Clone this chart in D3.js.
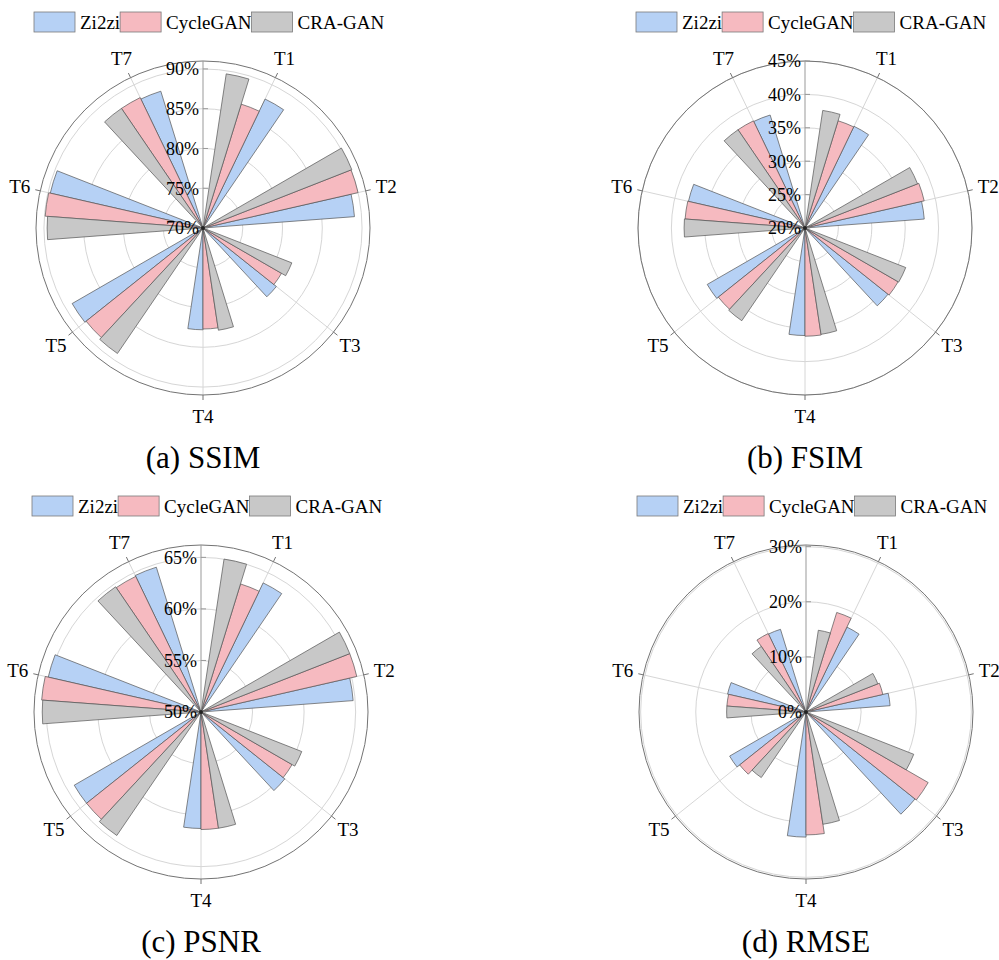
<!DOCTYPE html>
<html>
<head>
<meta charset="utf-8">
<script src="https://cdn.jsdelivr.net/npm/d3@7"></script>
<style>
  body { margin: 0; background: #fff; }
  text { font-family: "Liberation Serif", "Times New Roman", serif; fill: #000; }
</style>
</head>
<body>
<svg width="999" height="960"></svg>
<script>
// categories and series
const categories = ["T1", "T2", "T3", "T4", "T5", "T6", "T7"];
const seriesNames = ["Zi2zi", "CycleGAN", "CRA-GAN"];
const seriesColors = ["#b6d1f5", "#f6bac0", "#c8c8c8"];

// (a) SSIM, %
const ssimZi2zi    = [88.0, 89.1, 81.8, 82.8, 89.0, 89.7, 88.0];
const ssimCycleGAN = [86.3, 90.0, 81.4, 82.7, 88.8, 89.9, 88.2];
const ssimCRAGAN   = [89.6, 90.1, 82.0, 83.0, 89.1, 89.6, 88.2];
const ssimTicks = [70, 75, 80, 85, 90];

// (b) FSIM, %
const fsimZi2zi    = [36.9, 37.9, 35.9, 36.1, 36.9, 37.9, 37.7];
const fsimCycleGAN = [36.8, 38.3, 36.1, 36.2, 36.6, 38.0, 37.8];
const fsimCRAGAN   = [37.8, 38.1, 36.2, 36.1, 36.8, 38.1, 37.8];
const fsimTicks = [20, 25, 30, 35, 40, 45];

// (c) PSNR, %
const psnrZi2zi    = [63.9, 64.8, 60.4, 61.3, 64.2, 65.2, 64.7];
const psnrCycleGAN = [63.0, 65.5, 60.2, 61.4, 64.2, 65.5, 64.6];
const psnrCRAGAN   = [65.0, 65.5, 60.5, 61.4, 64.5, 65.4, 64.7];
const psnrTicks = [50, 55, 60, 65];

// (d) RMSE, %
const rmseZi2zi    = [17.1, 15.3, 25.3, 22.7, 16.0, 14.6, 15.7];
const rmseCycleGAN = [18.9, 14.3, 25.6, 22.3, 15.4, 14.4, 15.8];
const rmseCRAGAN   = [15.0, 14.0, 21.0, 20.6, 14.4, 14.4, 14.4];
const rmseTicks = [0, 10, 20, 30];

const panels = [
    {caption: "(a) SSIM", cx: 203, cy: 228, max: 91,   ticks: ssimTicks, series: [ssimZi2zi, ssimCycleGAN, ssimCRAGAN]},
    {caption: "(b) FSIM", cx: 805, cy: 228, max: 45,   ticks: fsimTicks, series: [fsimZi2zi, fsimCycleGAN, fsimCRAGAN]},
    {caption: "(c) PSNR", cx: 201, cy: 712, max: 66.2, ticks: psnrTicks, series: [psnrZi2zi, psnrCycleGAN, psnrCRAGAN]},
    {caption: "(d) RMSE", cx: 806, cy: 712, max: 30.3, ticks: rmseTicks, series: [rmseZi2zi, rmseCycleGAN, rmseCRAGAN]}
];

const svg = d3.select("svg");
const R = 167;
const gridColor = "#d6d6d6";
const axisColor = "#737373";

const polar = (a, rad) => [Math.sin(a) * rad, -Math.cos(a) * rad];

const drawPanel = (p) => {
    const g = svg.append("g").attr("transform", `translate(${p.cx},${p.cy})`);
    const r = d3.scaleLinear().domain([p.ticks[0], p.max]).range([0, R]);

    // category angle, clockwise from north
    const angle = d3.scaleBand().domain(categories).range([0, 2 * Math.PI]);
    const catMid = c => angle(c) + angle.bandwidth() / 2;
    const slot = angle.bandwidth() / 6;
    // series run counter-clockwise: Zi2zi last clockwise
    const offset = d3.scaleBand().domain([2, 1, 0]).range([-1.5 * slot, 1.5 * slot]);

    // grid circles
    g.selectAll("circle.grid")
        .data(p.ticks.slice(1))
        .join("circle")
        .attr("class", "grid")
        .attr("r", d => r(d))
        .attr("fill", "none")
        .attr("stroke", gridColor)
        .attr("stroke-width", 1);

    // spokes
    g.selectAll("line.spoke")
        .data(categories)
        .join("line")
        .attr("class", "spoke")
        .attr("x1", 0).attr("y1", 0)
        .attr("x2", d => polar(catMid(d), R)[0])
        .attr("y2", d => polar(catMid(d), R)[1])
        .attr("stroke", gridColor);

    // outer circle + little ticks
    g.append("circle")
        .attr("r", R)
        .attr("fill", "none")
        .attr("stroke", axisColor)
        .attr("stroke-width", 1);
    g.selectAll("line.otick")
        .data(categories)
        .join("line")
        .attr("class", "otick")
        .attr("x1", d => polar(catMid(d), R)[0])
        .attr("y1", d => polar(catMid(d), R)[1])
        .attr("x2", d => polar(catMid(d), R + 5)[0])
        .attr("y2", d => polar(catMid(d), R + 5)[1])
        .attr("stroke", axisColor);

    // bars
    const arc = d3.arc().innerRadius(0);
    p.series.forEach((vals, s) => {
        g.append("g")
            .selectAll("path")
            .data(vals.map((v, i) => ({cat: categories[i], v})))
            .join("path")
            .attr("d", d => {
                const a0 = catMid(d.cat) + offset(s) - slot / 2;
                return arc({outerRadius: r(d.v), startAngle: a0, endAngle: a0 + slot});
            })
            .attr("fill", seriesColors[s])
            .attr("stroke", "#555")
            .attr("stroke-width", 0.7);
    });

    // radial axis
    g.append("line")
        .attr("x1", 0).attr("y1", 0)
        .attr("x2", 0).attr("y2", -R)
        .attr("stroke", "#999");
    g.selectAll("line.rtick")
        .data(p.ticks)
        .join("line")
        .attr("class", "rtick")
        .attr("x1", 0).attr("x2", 5)
        .attr("y1", d => -r(d)).attr("y2", d => -r(d))
        .attr("stroke", "#999");
    g.selectAll("text.rlab")
        .data(p.ticks)
        .join("text")
        .attr("class", "rlab")
        .attr("x", -4)
        .attr("y", d => -r(d))
        .attr("dy", "0.35em")
        .attr("text-anchor", "end")
        .attr("font-size", 18)
        .text(d => d + "%");
    g.append("circle").attr("r", 2).attr("fill", "#222");

    // category labels
    g.selectAll("text.clab")
        .data(categories)
        .join("text")
        .attr("class", "clab")
        .attr("x", d => polar(catMid(d), R + 21)[0])
        .attr("y", d => polar(catMid(d), R + 21)[1])
        .attr("dy", "0.35em")
        .attr("text-anchor", "middle")
        .attr("font-size", 19)
        .text(d => d);

    // legend
    const lg = g.append("g").attr("transform", `translate(${-169},${-216})`);
    let x = 0;
    seriesNames.forEach((name, s) => {
        lg.append("rect")
            .attr("x", x).attr("y", 0)
            .attr("width", 41).attr("height", 20)
            .attr("fill", seriesColors[s])
            .attr("stroke", "#7a7a7a")
            .attr("stroke-width", 0.8);
        const t = lg.append("text")
            .attr("x", x + 46).attr("y", 10)
            .attr("dy", "0.35em")
            .attr("font-size", 19)
            .text(name);
        x += 46 + t.node().getComputedTextLength();
    });

    // caption
    g.append("text")
        .attr("x", 0).attr("y", 229)
        .attr("dy", "0.35em")
        .attr("text-anchor", "middle")
        .attr("font-size", 31)
        .text(p.caption);
};

panels.forEach(drawPanel);
</script>
</body>
</html>
